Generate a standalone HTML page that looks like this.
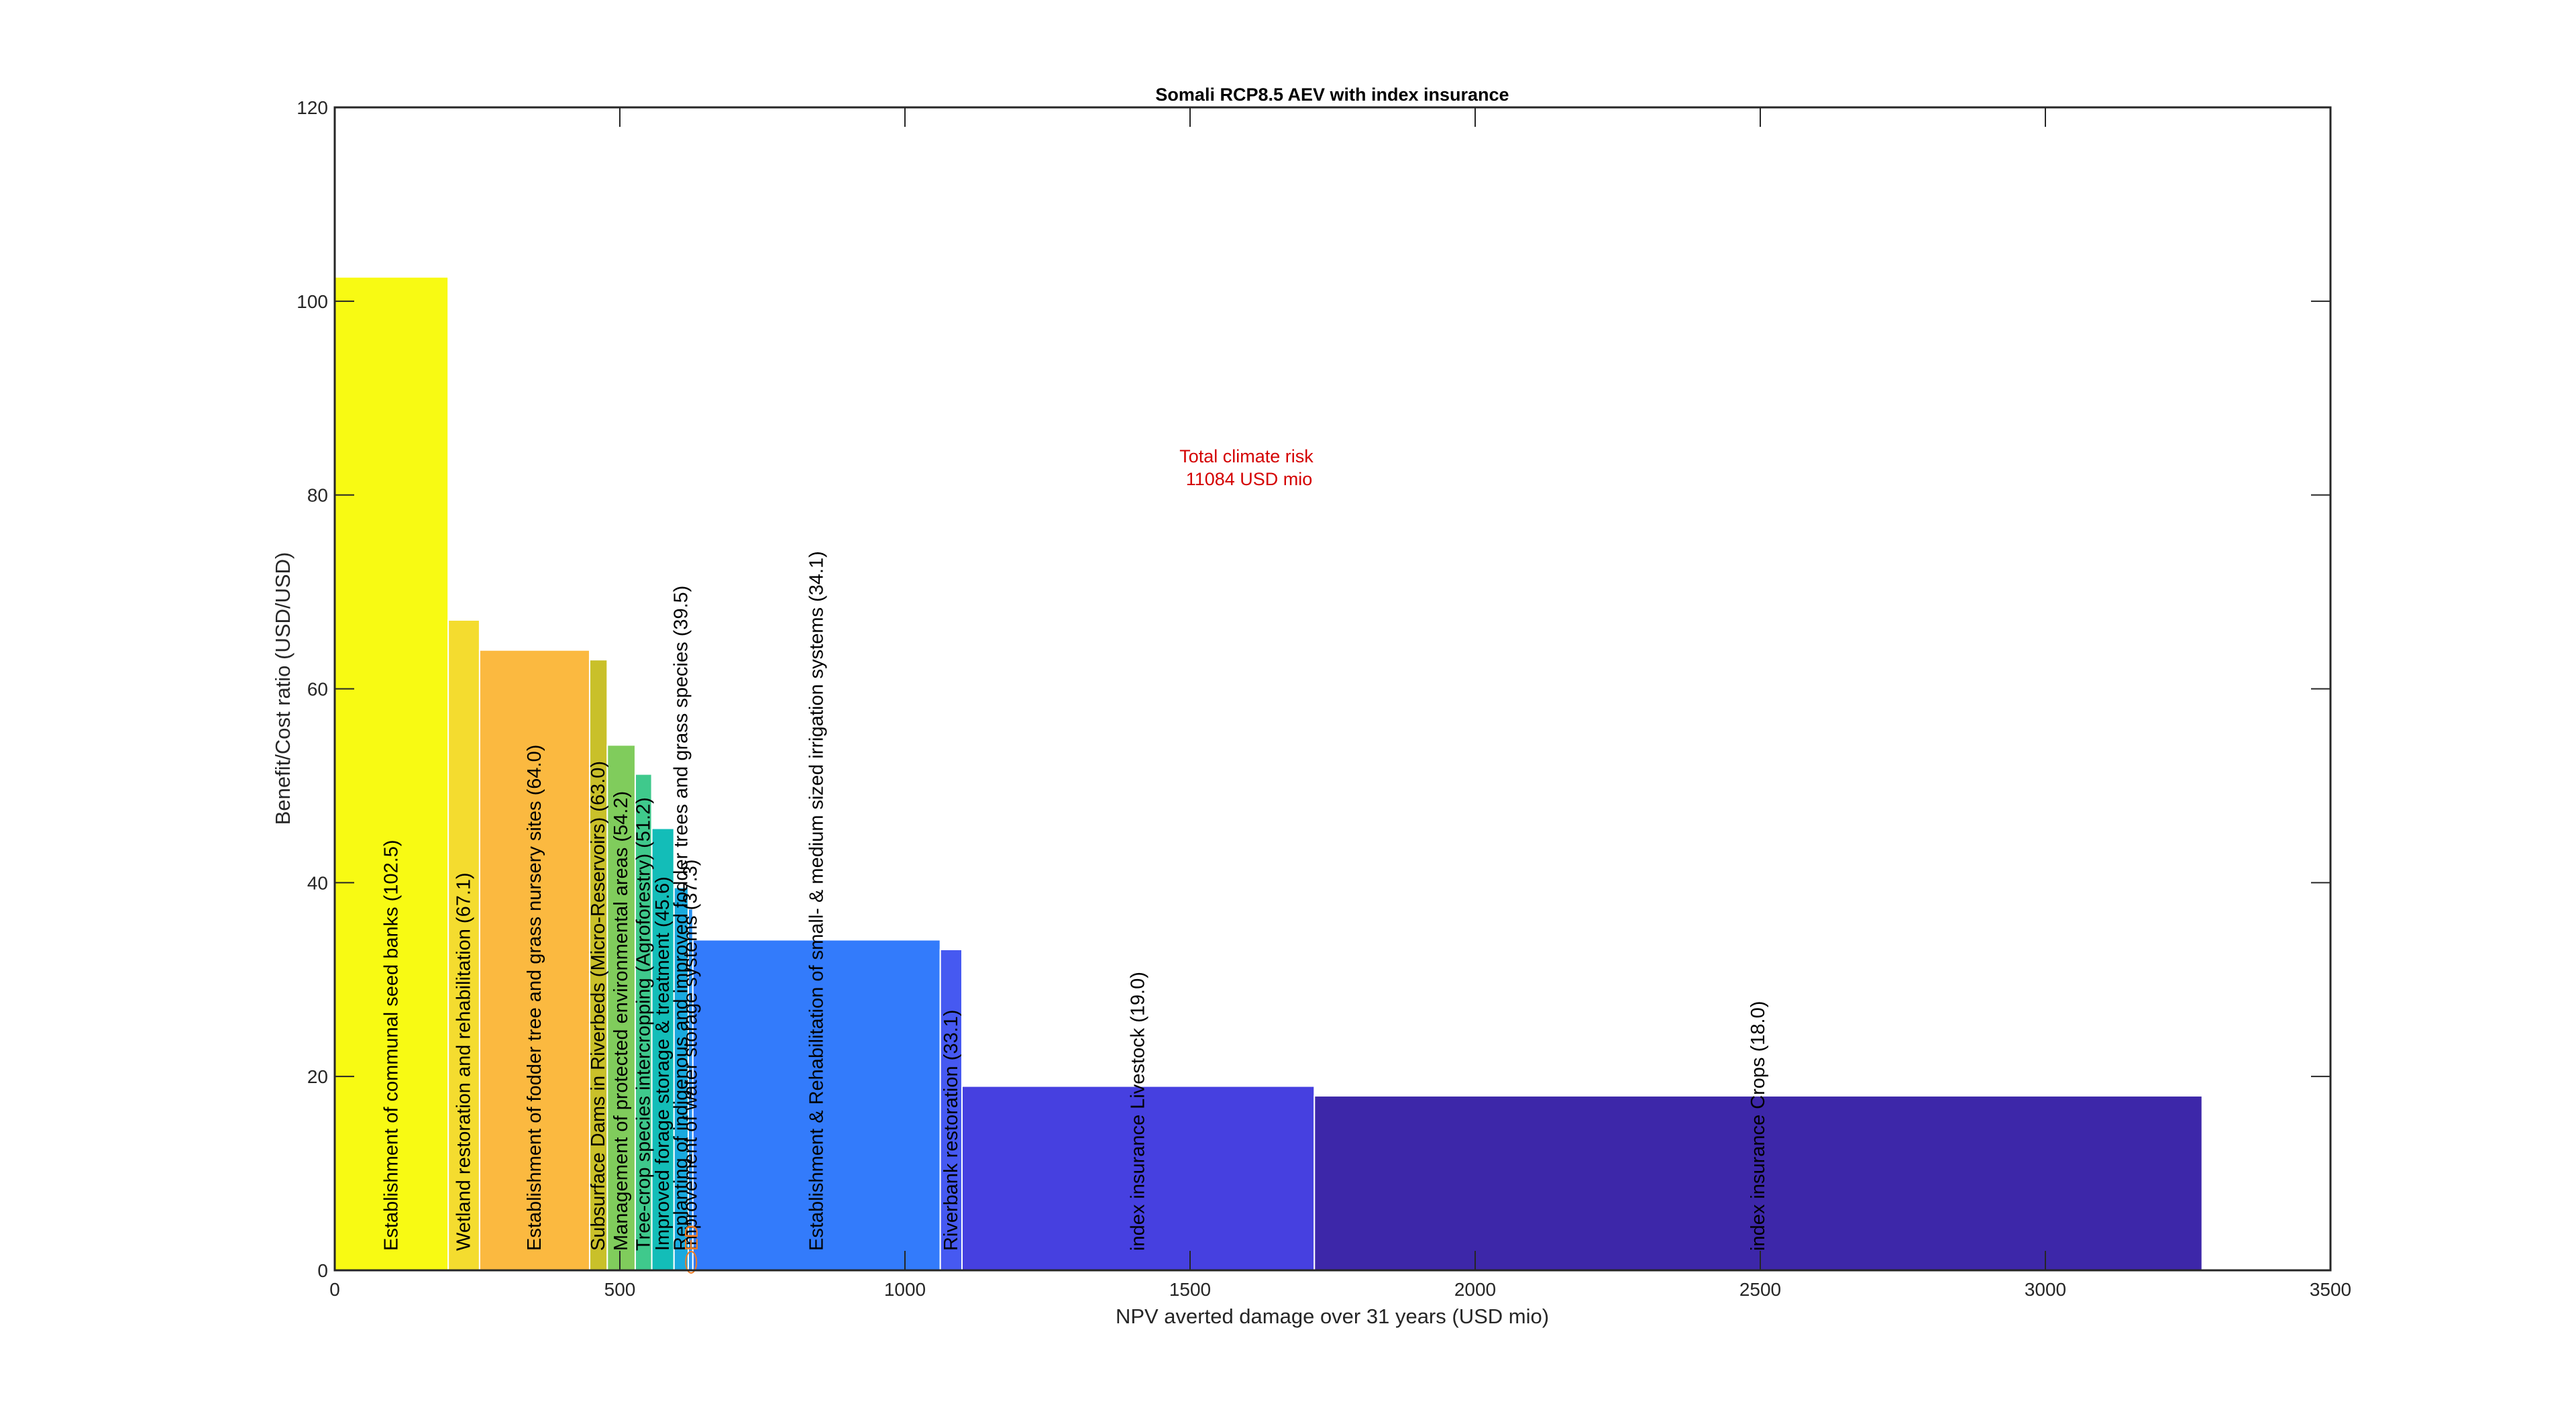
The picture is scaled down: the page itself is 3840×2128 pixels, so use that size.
<!DOCTYPE html>
<html><head><meta charset="utf-8"><style>
html,body{margin:0;padding:0;background:#fff;}
svg{display:block;font-family:"Liberation Sans",Arial,sans-serif;}
</style></head><body>
<svg id="chart" width="3840" height="2128" viewBox="0 0 3840 2128" xmlns="http://www.w3.org/2000/svg">
<rect x="0" y="0" width="3840" height="2128" fill="#fff"/>
<g id="bars"></g>
<g id="labels"></g>
<g id="axes"></g>
<text x="1986" y="150" font-size="27" font-weight="bold" text-anchor="middle" fill="#000">Somali RCP8.5 AEV with index insurance</text>
<text x="1986" y="1972" font-size="31" text-anchor="middle" fill="#262626">NPV averted damage over 31 years (USD mio)</text>
<text transform="translate(432,1026) rotate(-90)" font-size="31" text-anchor="middle" fill="#262626">Benefit/Cost ratio (USD/USD)</text>
<text x="1858" y="689" font-size="27" text-anchor="middle" fill="#d40000">Total climate risk</text>
<text x="1862" y="723" font-size="27" text-anchor="middle" fill="#d40000">11084 USD mio</text>
</svg>
<script>
const measureNames = ["Establishment of communal seed banks","Wetland restoration and rehabilitation","Establishment of fodder tree and grass nursery sites","Subsurface Dams in Riverbeds (Micro-Reservoirs)","Management of protected environmental areas","Tree-crop species intercropping (Agroforestry)","Improved forage storage & treatment","Replanting of indigenous and improved fodder trees and grass species","Improvement of water storage systems","Establishment & Rehabilitation of small- & medium sized irrigation systems","Riverbank restoration","index insurance Livestock","index insurance Crops"];
const avertedDamage = [199,55,193,31,49,29,39,25,8,434,38,618,1557];
const bcRatio = [102.5,67.1,64.0,63.0,54.2,51.2,45.6,39.5,37.3,34.1,33.1,19.0,18.0];
const barColors = ["#f8fa13","#f4dc2f","#fbb940","#c9c02a","#80cc5c","#3fc98c","#13bdb8","#1aa9de","#2b93f2","#337bfb","#4659f1","#4640e0","#3d27a9"];
const xTicks = [0,500,1000,1500,2000,2500,3000,3500];
const yTicks = [0,20,40,60,80,100,120];

const L=499,R=3474,T=160,B=1893,XMAX=3500,YMAX=120;
const sx=v=>L+v*(R-L)/XMAX;
const sy=v=>B-v*(B-T)/YMAX;
const NS="http://www.w3.org/2000/svg";
const bars=document.getElementById('bars'),labels=document.getElementById('labels'),axes=document.getElementById('axes');
function mk(tag,attrs,parent){const e=document.createElementNS(NS,tag);for(const k in attrs)e.setAttribute(k,attrs[k]);parent.appendChild(e);return e;}

let cum=0;
for(let i=0;i<bcRatio.length;i++){
  const x0=cum,x1=cum+avertedDamage[i];cum=x1;
  const r=mk('rect',{x:sx(x0),y:sy(bcRatio[i]),width:sx(x1)-sx(x0),height:sy(0)-sy(bcRatio[i]),fill:barColors[i],stroke:'#ffffff','stroke-width':2},bars);
  
  
  const cx=sx((x0+x1)/2);
  const t=mk('text',{transform:`translate(${cx},1864) rotate(-90)`,'font-size':29,'dominant-baseline':'central',fill:'#000'},labels);
  t.textContent=measureNames[i]+'  ('+bcRatio[i].toFixed(1)+')';
  
  
}
const edx=sx(625);
const ed=mk('text',{transform:`translate(${edx},1864) rotate(-90)`,'font-size':28,'dominant-baseline':'central',fill:'#f07a20'},labels);
ed.textContent='ED';


const ell=mk('ellipse',{cx:edx,cy:sy(0)-12,rx:8,ry:16,fill:'none',stroke:'#f07a20','stroke-width':2},labels);



const box=mk('rect',{x:L,y:T,width:R-L,height:B-T,fill:'none',stroke:'#262626','stroke-width':3},axes);


xTicks.forEach(v=>{
  const x=sx(v);
  mk('line',{x1:x,y1:B,x2:x,y2:B-29,stroke:'#262626','stroke-width':2},axes);
  mk('line',{x1:x,y1:T,x2:x,y2:T+29,stroke:'#262626','stroke-width':2},axes);
  const t=mk('text',{x:x,y:1931,'font-size':28,'text-anchor':'middle',fill:'#262626'},axes);
  t.textContent=v;
  
  
});
yTicks.forEach(v=>{
  const y=sy(v);
  mk('line',{x1:L,y1:y,x2:L+29,y2:y,stroke:'#262626','stroke-width':2},axes);
  mk('line',{x1:R,y1:y,x2:R-29,y2:y,stroke:'#262626','stroke-width':2},axes);
  const t=mk('text',{x:489,y:y+10,'font-size':28,'text-anchor':'end',fill:'#262626'},axes);
  t.textContent=v;
  
  
});
</script>
</body></html>
